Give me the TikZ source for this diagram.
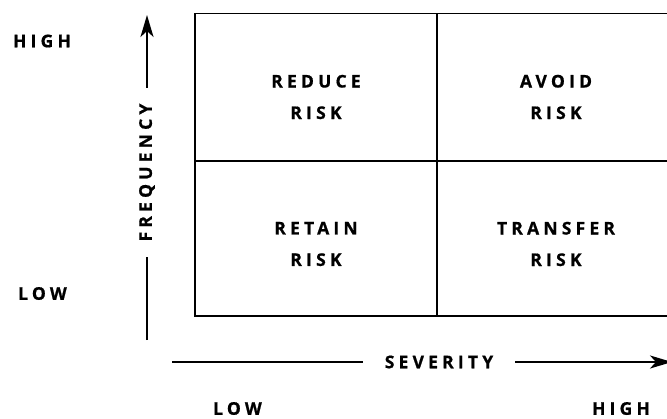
\documentclass[tikz,border=0pt]{standalone}
\usepackage{fontspec}
\setmainfont{Open Sans}[LetterSpace=24,BoldFeatures={FakeBold=0.8}]
\usetikzlibrary{arrows.meta}
\begin{document}
\begin{tikzpicture}[x=1pt,y=-1pt,
  lbl/.style={font=\bfseries\fontsize{17.5}{17.5}\selectfont, inner sep=0pt, anchor=center},
  cell/.style={font=\bfseries\fontsize{17.5}{31.5}\selectfont, align=center, inner sep=0pt},
  frame/.style={line width=1.8pt},
  axis/.style={line width=2.2pt},
  tip/.style={-{Stealth[length=22pt,width=13pt,inset=6pt]}}]
\useasboundingbox (0,0) rectangle (667,418);
% grid
\draw[frame] (667,13.5) -- (195,13.5) -- (195,316) -- (667,316);
\draw[frame] (195,161) -- (667,161);
\draw[frame] (437,13.5) -- (437,316);
% cell texts
\node[cell] (reduce) at (316,97) {REDUCE\\RISK};
\node[cell] (avoid) at (556,97) {AVOID\\RISK};
\node[cell] (retain) at (316,244) {RETAIN\\RISK};
\node[cell] (transfer) at (556,244) {TRANSFER\\RISK};
% level labels
\node[lbl] (fhigh) at (42,41) {HIGH};
\node[lbl] (flow) at (42.5,293.5) {LOW};
\node[lbl] (slow) at (237.5,408.5) {LOW};
\node[lbl] (shigh) at (621,408.5) {HIGH};
% vertical axis
\coordinate (vbot) at (147,340);
\coordinate (vtop) at (147,15);
\node[lbl, rotate=90, minimum width=169pt] (freq) at (147,172.5) {FREQUENCY};
\draw[axis] (vbot) -- (freq.west);
\draw[axis, tip] (freq.east) -- (vtop);
% horizontal axis
\coordinate (hleft) at (172,362);
\coordinate (hright) at (672,362);
\node[lbl, minimum width=152pt] (sev) at (439,362) {SEVERITY};
\draw[axis] (hleft) -- (sev.west);
\draw[axis, tip] (sev.east) -- (hright);
\end{tikzpicture}
\end{document}
